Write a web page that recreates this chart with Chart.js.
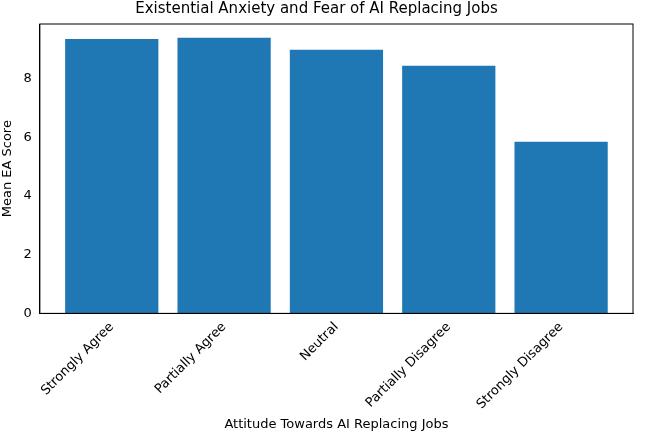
<!DOCTYPE html>
<html>
<head>
<meta charset="utf-8">
<script src="https://cdn.jsdelivr.net/npm/chart.js@4"></script>
<style>
  body { margin: 0; background: #fff; }
  #wrap { width: 649px; height: 434px; }
</style>
</head>
<body>
<div id="wrap"><canvas id="c"></canvas></div>
<script>
// Data
const categories = ['Strongly Agree', 'Partially Agree', 'Neutral', 'Partially Disagree', 'Strongly Disagree'];
const meanScores = [9.35, 9.39, 8.98, 8.44, 5.85];
const yTicks = [0, 2, 4, 6, 8];

Chart.defaults.font.family = 'DejaVu Sans';
Chart.defaults.font.size = 13;
Chart.defaults.color = '#000';

// cadre autour de la zone de tracé (style matplotlib)
const frame = {
    id: 'frame',
    afterDraw(chart) {
        const { ctx, chartArea: a } = chart;
        ctx.save();
        ctx.strokeStyle = '#000';
        ctx.lineWidth = 1;
        ctx.strokeRect(a.left, a.top, a.right - a.left, a.bottom - a.top);
        ctx.restore();
    }
};

new Chart(document.getElementById('c'), {
    type: 'bar',
    data: {
        datasets: [{
            data: meanScores.map((v, i) => ({ x: i, y: v })),
            backgroundColor: '#1f77b4', barPercentage: 0.83, categoryPercentage: 1
        }]
    },
    options: {
        responsive: true,
        maintainAspectRatio: false,
        animation: false,
        layout: { padding: { top: 0, right: 16, left: 0, bottom: 2 } },
        plugins: {
            legend: { display: false },
            tooltip: { enabled: false },
            title: { display: true, text: 'Existential Anxiety and Fear of AI Replacing Jobs', font: { size: 15, weight: 'normal' }, padding: { top: 0, bottom: 6 }, color: '#000' }
        },
        scales: {
            x: {
                type: 'linear',
                offset: false,
                min: -0.64,
                max: 4.64,
                afterBuildTicks: s => { s.ticks = categories.map((c, i) => ({ value: i })); },
                grid: { display: false, drawTicks: true, tickLength: 4 },
                border: { color: '#000' },
                ticks: { maxRotation: 45, minRotation: 45, color: '#000', padding: 2, callback: v => categories[v] },
                title: { display: true, text: 'Attitude Towards AI Replacing Jobs', padding: { top: 2, bottom: 0 } }
            },
            y: {
                min: 0,
                max: 9.86,
                afterBuildTicks: s => { s.ticks = yTicks.map(v => ({ value: v })); },
                grid: { display: false, drawTicks: true, tickLength: 4 },
                border: { color: '#000' },
                ticks: { color: '#000', padding: 4 },
                title: { display: true, text: 'Mean EA Score', padding: { top: 0, bottom: 4 } }
            }
        }
    },
    plugins: [frame]
});
</script>
</body>
</html>
